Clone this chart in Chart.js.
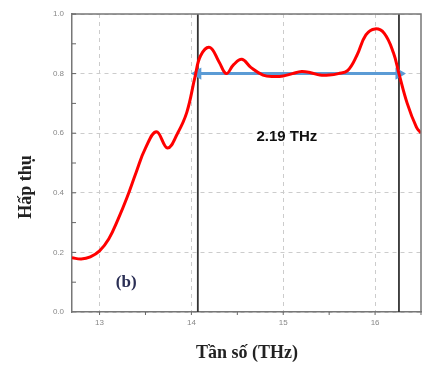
<!DOCTYPE html>
<html>
<head>
<meta charset="utf-8">
<script src="https://cdn.jsdelivr.net/npm/chart.js@4"></script>
<style>
  body { margin: 0; background: #fff; }
  #wrap { width: 423px; height: 369px; }
</style>
</head>
<body>
<div id="wrap"><canvas id="hapThuChart" width="423" height="369"></canvas></div>
<script>
// Tần số (THz) và độ hấp thụ
const tanSo = [12.7, 12.8, 12.9, 13.0, 13.1, 13.2, 13.3, 13.4, 13.5, 13.62, 13.74, 13.85, 13.95, 14.04, 14.1,
  14.2, 14.3, 14.38, 14.46, 14.55, 14.65, 14.78, 14.9, 15.0, 15.1, 15.2, 15.3, 15.4, 15.5, 15.6, 15.7,
  15.8, 15.9, 16.0, 16.1, 16.2, 16.26, 16.35, 16.45, 16.5];
const hapThu = [0.182, 0.178, 0.185, 0.205, 0.245, 0.31, 0.385, 0.47, 0.55, 0.605, 0.55, 0.60, 0.67, 0.79, 0.86,
  0.888, 0.84, 0.80, 0.83, 0.848, 0.82, 0.795, 0.79, 0.792, 0.80, 0.807, 0.803, 0.795, 0.795, 0.80, 0.81,
  0.86, 0.93, 0.95, 0.935, 0.87, 0.80, 0.70, 0.62, 0.60];

const xTicks = [13, 14, 15, 16];
const yTicks = [0.0, 0.2, 0.4, 0.6, 0.8, 1.0];
const bangThong = [14.07, 16.26];   // hai vạch đứng
const mucBang = 0.8;                 // mũi tên ngang
const nhanBang = '2.19 THz';

const curve = tanSo.map((x, i) => ({ x, y: hapThu[i] }));

// vẽ chữ, khung, vạch chia nhỏ
const extras = {
  id: 'extras',
  afterDraw(chart) {
    const { ctx, chartArea: a, scales: { x, y } } = chart;
    ctx.save();
    // khung trên + phải
    ctx.strokeStyle = '#777';
    ctx.lineWidth = 1.5;
    ctx.beginPath();
    ctx.moveTo(a.left, a.top); ctx.lineTo(a.right, a.top); ctx.lineTo(a.right, a.bottom);
    ctx.stroke();
    // vạch chia
    ctx.lineWidth = 1;
    ctx.strokeStyle = '#666';
    for (let v = 0.1; v < 1.0; v += 0.1) {
      const py = y.getPixelForValue(v);
      ctx.beginPath(); ctx.moveTo(a.left, py); ctx.lineTo(a.left + 4, py); ctx.stroke();
    }
    for (let v = 13; v <= 16.5; v += 0.5) {
      const px = x.getPixelForValue(v);
      ctx.beginPath(); ctx.moveTo(px, a.bottom); ctx.lineTo(px, a.bottom + 3); ctx.stroke();
    }
    // nhãn
    ctx.fillStyle = '#111';
    ctx.font = 'bold 15px "Liberation Sans", Arial, sans-serif';
    ctx.textAlign = 'center';
    ctx.textBaseline = 'middle';
    ctx.fillText(nhanBang, x.getPixelForValue(15.04), y.getPixelForValue(0.587));

    ctx.fillStyle = '#2b2f55';
    ctx.font = 'bold 17px "Liberation Serif", "Times New Roman", serif';
    ctx.fillText('(b)', x.getPixelForValue(13.29), y.getPixelForValue(0.097));

    ctx.fillStyle = '#222';
    ctx.font = 'bold 18px "Liberation Serif", "Times New Roman", serif';
    ctx.fillText('Tần số (THz)', 247, 353);
    ctx.translate(26, 187);
    ctx.rotate(-Math.PI / 2);
    ctx.fillText('Hấp thụ', 0, 0);
    ctx.restore();
  }
};

const ctx = document.getElementById('hapThuChart').getContext('2d');
new Chart(ctx, {
  type: 'line',
  data: {
    datasets: [
      {
        data: curve,
        borderColor: '#ff0000',
        borderWidth: 3,
        pointRadius: 0,
        tension: 0.4,
        order: 1
      },
      {
        data: [{ x: bangThong[0], y: 0 }, { x: bangThong[0], y: 1 }],
        borderColor: '#333',
        borderWidth: 1.8,
        pointRadius: 0,
        order: 3
      },
      {
        data: [{ x: bangThong[1], y: 0 }, { x: bangThong[1], y: 1 }],
        borderColor: '#333',
        borderWidth: 1.8,
        pointRadius: 0,
        order: 3
      },
      {
        data: [{ x: bangThong[0], y: mucBang }, { x: bangThong[1], y: mucBang }],
        borderColor: '#5b9bd5',
        backgroundColor: '#5b9bd5',
        borderWidth: 3,
        pointStyle: 'triangle',
        pointRadius: 4,
        pointRotation: [-90, 90],
        order: 2
      }
    ]
  },
  options: {
    responsive: false,
    animation: false,
    layout: { autoPadding: false, padding: { top: 14, right: 2, left: 0, bottom: 0 } },
    plugins: { legend: { display: false }, tooltip: { enabled: false } },
    scales: {
      x: {
        type: 'linear',
        min: 12.7,
        max: 16.5,
        afterBuildTicks: s => { s.ticks = xTicks.map(v => ({ value: v })); },
        afterFit: s => { s.height = 57; },
        ticks: { color: '#888', font: { size: 8 }, padding: 6 },
        grid: { color: '#ccc', drawTicks: false, tickLength: 0 },
        border: { color: '#777', width: 1.5, dash: [4, 4] }
      },
      y: {
        min: 0,
        max: 1,
        afterBuildTicks: s => { s.ticks = yTicks.map(v => ({ value: v })); },
        afterFit: s => { s.width = 72; },
        ticks: { color: '#888', font: { size: 8 }, padding: 8, callback: v => v.toFixed(1) },
        grid: { color: '#ccc', drawTicks: false, tickLength: 0 },
        border: { color: '#777', width: 1.5, dash: [4, 4] }
      }
    }
  },
  plugins: [extras]
});
</script>
</body>
</html>
